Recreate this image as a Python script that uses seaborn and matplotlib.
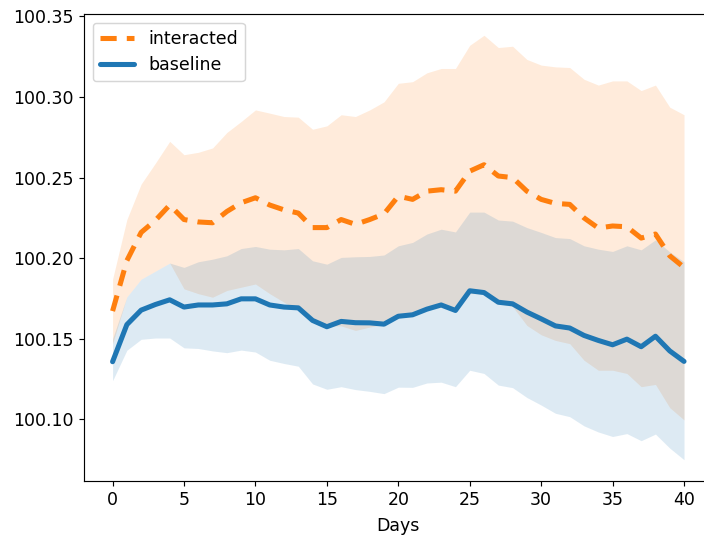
import numpy as np
import pandas as pd
import matplotlib
matplotlib.use("Agg")
import matplotlib.pyplot as plt
import seaborn as sns
from matplotlib.ticker import FormatStrFormatter

days = list(range(41))

interacted_mean = [
    100.1672, 100.1985, 100.2160, 100.2235, 100.2330, 100.2240, 100.2225, 100.2220,
    100.2290, 100.2344, 100.2375, 100.2330, 100.2300, 100.2280, 100.2190, 100.2190,
    100.2240, 100.2210, 100.2240, 100.2275, 100.2385, 100.2365, 100.2416, 100.2425,
    100.2416, 100.2540, 100.2580, 100.2510, 100.2500, 100.2416, 100.2365, 100.2340,
    100.2334, 100.2250, 100.2187, 100.2200, 100.2195, 100.2125, 100.2150, 100.2015,
    100.1943,
]
interacted_upper = [
    100.187, 100.224, 100.246, 100.259, 100.2725, 100.2642, 100.2657, 100.2684,
    100.278, 100.2848, 100.292, 100.290, 100.2879, 100.2875, 100.280, 100.2821,
    100.289, 100.2879, 100.292, 100.297, 100.3085, 100.3095, 100.315, 100.3177,
    100.3177, 100.3321, 100.3383, 100.3307, 100.3315, 100.3233, 100.3198, 100.3187,
    100.3183, 100.311, 100.3074, 100.310, 100.310, 100.304, 100.3074, 100.2937,
    100.289,
]
interacted_lower = [
    100.147, 100.176, 100.187, 100.192, 100.197, 100.181, 100.178, 100.1758,
    100.180, 100.182, 100.184, 100.178, 100.1727, 100.1676, 100.1625, 100.158,
    100.158, 100.1552, 100.1573, 100.159, 100.164, 100.165, 100.168, 100.170,
    100.167, 100.178, 100.178, 100.172, 100.170, 100.1583, 100.1525, 100.149,
    100.147, 100.1367, 100.1305, 100.1305, 100.1285, 100.1203, 100.1217, 100.1073,
    100.0997,
]
baseline_mean = [
    100.1358, 100.1588, 100.1678, 100.1713, 100.1742, 100.1697, 100.1710, 100.1710,
    100.1717, 100.1748, 100.1748, 100.1710, 100.1697, 100.1692, 100.1614, 100.1575,
    100.1608, 100.1600, 100.1599, 100.1591, 100.1640, 100.1649, 100.1684, 100.1710,
    100.1676, 100.1798, 100.1787, 100.1727, 100.1717, 100.1666, 100.1624, 100.1580,
    100.1567, 100.1521, 100.1490, 100.1463, 100.1498, 100.1451, 100.1516, 100.1425,
    100.1360,
]
baseline_upper = [
    100.150, 100.176, 100.187, 100.192, 100.197, 100.1943, 100.1978, 100.1994,
    100.2015, 100.206, 100.2073, 100.2056, 100.2052, 100.206, 100.1984, 100.1963,
    100.2005, 100.2009, 100.2011, 100.202, 100.2077, 100.2098, 100.215, 100.218,
    100.2163, 100.2286, 100.2286, 100.2237, 100.223, 100.219, 100.216, 100.2128,
    100.2122, 100.2077, 100.2056, 100.2042, 100.2077, 100.2052, 100.2114, 100.2039,
    100.1978,
]
baseline_lower = [
    100.1240, 100.1429, 100.1497, 100.1505, 100.1505, 100.1444, 100.1440, 100.1425,
    100.1414, 100.1430, 100.1418, 100.1367, 100.1347, 100.1330, 100.1220, 100.1187,
    100.1203, 100.1185, 100.1174, 100.1160, 100.1200, 100.1199, 100.1226, 100.1231,
    100.1203, 100.1305, 100.1285, 100.1213, 100.1197, 100.1136, 100.1089, 100.1038,
    100.1017, 100.0960, 100.0922, 100.0894, 100.0912, 100.0868, 100.0909, 100.0822,
    100.0750,
]
x_ticks = [0, 5, 10, 15, 20, 25, 30, 35, 40]
y_ticks = [100.10, 100.15, 100.20, 100.25, 100.30, 100.35]

sns.set_style("ticks")
plt.rcParams["font.family"] = ["DejaVu Sans"]
plt.rcParams["font.size"] = 12
for k in ["text.color", "axes.labelcolor", "xtick.color", "ytick.color", "axes.edgecolor"]:
    plt.rcParams[k] = "black"

DPI = 104
fig = plt.figure(figsize=(704 / DPI, 539 / DPI), dpi=DPI)
ax = fig.add_axes([84 / 704, 1 - 481 / 539, (712.6 - 84) / 704, (481 - 14) / 539])

orange = "#ff7f0e"
blue = "#1f77b4"

df_i = pd.DataFrame({"Days": days, "value": interacted_mean})
df_b = pd.DataFrame({"Days": days, "value": baseline_mean})

ax.fill_between(days, interacted_lower, interacted_upper, color=orange, alpha=0.15, linewidth=0)
ax.fill_between(days, baseline_lower, baseline_upper, color=blue, alpha=0.15, linewidth=0)

sns.lineplot(data=df_i, x="Days", y="value", ax=ax, color=orange, linewidth=3.5,
             label="interacted", dashes=False)
ax.lines[-1].set_dashes((3.2, 2.0))
sns.lineplot(data=df_b, x="Days", y="value", ax=ax, color=blue, linewidth=3.5,
             label="baseline")

ax.set_xlim(-2, 42)
ax.set_ylim(100.0618, 100.3515)
ax.set_xticks(x_ticks)
ax.set_yticks(y_ticks)
ax.yaxis.set_major_formatter(FormatStrFormatter("%.2f"))
ax.set_xlabel("Days", fontsize=12, color="black", labelpad=5.5)
ax.set_ylabel("")
ax.tick_params(labelsize=12, length=3.5, width=0.8, colors="black")
for s in ax.spines.values():
    s.set_linewidth(0.8)
    s.set_color("black")
    s.set_visible(True)

leg = ax.legend(loc="upper left", fontsize=12)
for t in leg.get_texts():
    t.set_color("black")

fig.savefig("out.png", dpi=DPI)
